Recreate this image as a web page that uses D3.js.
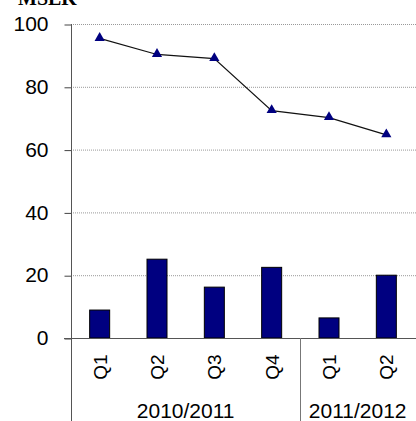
<!DOCTYPE html>
<html>
<head>
<meta charset="utf-8">
<script src="https://cdn.jsdelivr.net/npm/d3@7"></script>
<style>
  body { margin: 0; background: #fff; }
  svg { display: block; }
</style>
</head>
<body>
<svg width="416" height="421"></svg>
<script>
const quarters = ["Q1", "Q2", "Q3", "Q4", "Q1", "Q2"];
const years = ["2010/2011", "2010/2011", "2010/2011", "2010/2011", "2011/2012", "2011/2012"];
const barValues = [8.9, 25.1, 16.2, 22.5, 6.4, 20.0];
const lineValues = [95.4, 90.3, 89.0, 72.4, 70.2, 64.7];
const yTicks = [0, 20, 40, 60, 80, 100];

const svg = d3.select("svg");
const plotLeft = 71, plotRight = 415, plotTop = 24, plotBottom = 338;

const keys = quarters.map((q, i) => i);
const x = d3.scaleBand().domain(keys).range([plotLeft, plotRight]).padding(0);
const y = d3.scaleLinear().domain([0, 100]).range([plotBottom, plotTop]);

// gridlines
svg.append("g")
  .selectAll("line")
  .data(yTicks.filter(d => d > 0))
  .enter()
  .append("line")
    .attr("x1", plotLeft).attr("x2", 416)
    .attr("y1", d => y(d) + 0.5).attr("y2", d => y(d) + 0.5)
    .attr("stroke", "#999")
    .attr("stroke-dasharray", "1,1");

// y axis
const yAxis = svg.append("g")
  .attr("transform", `translate(${plotLeft + 0.5},0)`)
  .call(d3.axisLeft(y).tickValues(yTicks).tickSize(7).tickPadding(16));
yAxis.select(".domain").remove();
yAxis.selectAll(".tick line").attr("stroke", "#444").attr("transform", "translate(0,0.5)");
yAxis.selectAll(".tick text")
  .attr("font-family", "Liberation Sans, Arial, sans-serif")
  .attr("font-size", 21)
  .attr("fill", "#000");

svg.append("line")
  .attr("x1", plotLeft + 0.5).attr("x2", plotLeft + 0.5)
  .attr("y1", plotTop).attr("y2", 421)
  .attr("stroke", "#555");

// bars
svg.append("g")
  .selectAll("rect")
  .data(barValues)
  .enter()
  .append("rect")
    .attr("x", (d, i) => x(i) + x.bandwidth() / 2 - 10)
    .attr("y", d => y(d))
    .attr("width", 20)
    .attr("height", d => y(0) - y(d))
    .attr("fill", "#000080")
    .attr("stroke", "#000")
    .attr("stroke-width", 1);

// zero line
svg.append("line")
  .attr("x1", plotLeft - 7).attr("x2", 416)
  .attr("y1", y(0) + 0.5).attr("y2", y(0) + 0.5)
  .attr("stroke", "#555");

// year separators
const groupStarts = years.map((yr, i) => i).filter(i => i > 0 && years[i] !== years[i - 1]);
svg.append("g")
  .selectAll("line")
  .data(groupStarts)
  .enter()
  .append("line")
    .attr("x1", i => Math.round(x(i)) + 0.5).attr("x2", i => Math.round(x(i)) + 0.5)
    .attr("y1", plotBottom).attr("y2", 421)
    .attr("stroke", "#777");

// line series
const line = d3.line()
  .x((d, i) => x(i) + x.bandwidth() / 2)
  .y(d => y(d));
svg.append("path")
  .datum(lineValues)
  .attr("d", line)
  .attr("fill", "none")
  .attr("stroke", "#111")
  .attr("stroke-width", 1.2);

svg.append("g")
  .selectAll("path")
  .data(lineValues)
  .enter()
  .append("path")
    .attr("d", d3.symbol().type(d3.symbolTriangle).size(45))
    .attr("transform", (d, i) => `translate(${x(i) + x.bandwidth() / 2},${y(d) - 0.5})`)
    .attr("fill", "#000080");

// quarter labels (rotated)
svg.append("g")
  .selectAll("text")
  .data(quarters)
  .enter()
  .append("text")
    .attr("transform", (d, i) => `translate(${x(i) + x.bandwidth() / 2 + 7},367) rotate(-90)`)
    .attr("text-anchor", "middle")
    .attr("font-family", "Liberation Sans, Arial, sans-serif")
    .attr("font-size", 19)
    .attr("fill", "#000")
    .text(d => d);

// year labels
const yearGroups = Array.from(d3.group(keys, i => years[i]), ([name, idx]) => ({ name, idx }));
svg.append("g")
  .selectAll("text")
  .data(yearGroups)
  .enter()
  .append("text")
    .attr("x", d => (x(d.idx[0]) + x(d.idx[d.idx.length - 1]) + x.bandwidth()) / 2)
    .attr("y", 418)
    .attr("text-anchor", "middle")
    .attr("font-family", "Liberation Sans, Arial, sans-serif")
    .attr("font-size", 21)
    .attr("fill", "#000")
    .text(d => d.name);

// unit label
svg.append("text")
  .attr("x", 18).attr("y", 5)
  .attr("font-family", "Liberation Serif, Times New Roman, serif")
  .attr("font-weight", "bold")
  .attr("font-size", 20)
  .attr("fill", "#000")
  .text("MSEK");
</script>
</body>
</html>
